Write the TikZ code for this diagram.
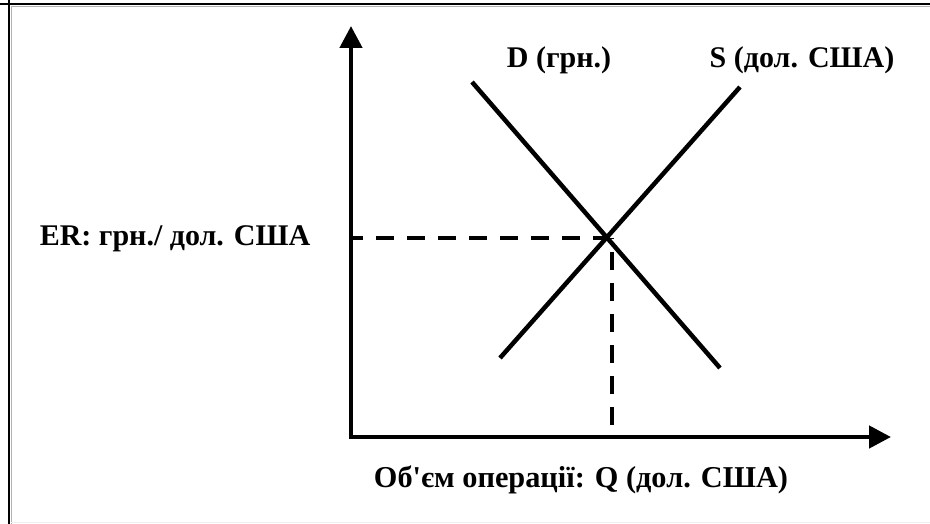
\documentclass[tikz,border=0pt]{standalone}
\usepackage{fontspec}
\setmainfont{Liberation Serif}[Ligatures=TeXOff]
\usetikzlibrary{arrows.meta}
\tikzset{
  axis/.style={line width=4.5pt, -{Triangle[length=22pt,width=22pt]}},
  curve/.style={line width=4.5pt},
  guide/.style={line width=3.5pt, dash pattern=on 18pt off 13pt},
  lbl/.style={font=\fontsize{30}{34}\selectfont\bfseries, inner sep=0pt, anchor=base},
}
\begin{document}
\begin{tikzpicture}[x=1pt,y=-1pt]
\useasboundingbox (0,0) rectangle (930,524);
% frame
\draw[line width=2pt] (0,4.5) -- (930,4.5);
\draw[line width=2.5pt] (9,0) -- (9,524);
\draw[gray!60, line width=1pt] (11,7) -- (930,7);
\draw[gray!60, line width=1pt] (11,7) -- (11,524);
\draw[gray!12, line width=1pt] (11,522.5) -- (930,522.5);
% coordinates
\coordinate (O) at (351,437);
\coordinate (Ytop) at (351,26);
\coordinate (Xend) at (891,437);
\coordinate (D1) at (472,82);
\coordinate (D2) at (720,368);
\coordinate (S1) at (500,358);
\coordinate (S2) at (740,87);
\coordinate (E) at (609,238);
\coordinate (Ev) at (612,238);
\coordinate (Eh) at (352,238);
\coordinate (Eb) at (612,437);
% guides
\draw[guide, dash phase=7pt] (Eh) -- (E);
\draw[guide, dash phase=17pt] (Ev) -- (Eb);
% axes
\draw[axis, line cap=butt] (O) -- (Ytop);
\draw[axis] ([xshift=-2.25pt]O) -- (Xend);
% curves
\draw[curve] (D1) -- (D2);
\draw[curve] (S1) -- (S2);
% labels
\node[lbl] (dl) at (559,68) {D (грн.)};
\node[lbl] (sl) at (802,68) {S (дол. США)};
\node[lbl] (erl) at (175,245) {ER: грн./ дол. США};
\node[lbl, font=\fontsize{30.3}{34}\selectfont\bfseries] (ql) at (581,487) {Об'єм операції: Q (дол. США)};
\end{tikzpicture}
\end{document}
